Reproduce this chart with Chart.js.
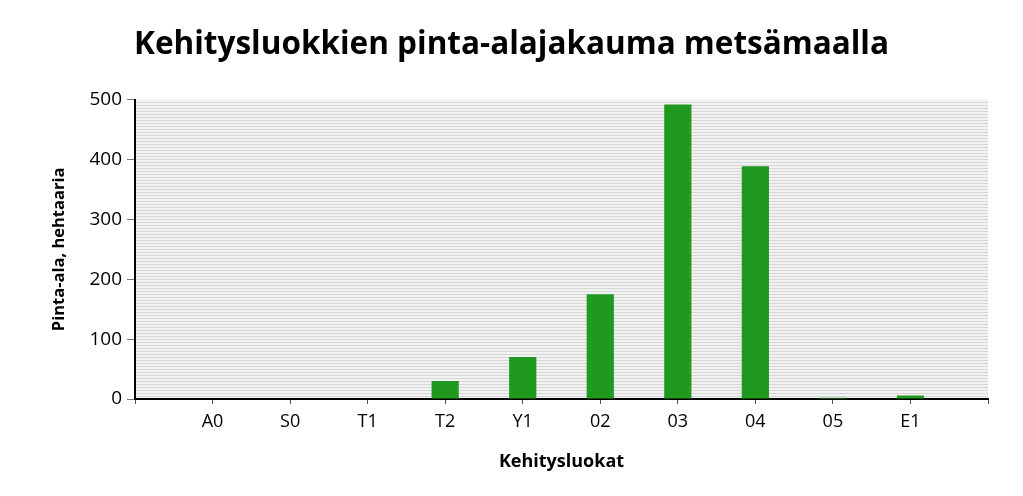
<!DOCTYPE html>
<html>
<head>
<meta charset="utf-8">
<script src="https://cdn.jsdelivr.net/npm/chart.js@4/dist/chart.umd.min.js"></script>
<style>
  html, body { margin: 0; padding: 0; background: #fff; }
  #wrap { width: 1023px; height: 496px; }
</style>
</head>
<body>
<div id="wrap"><canvas id="chart"></canvas></div>
<script>
const classes = ["A0", "S0", "T1", "T2", "Y1", "02", "03", "04", "05", "E1"];
const areaHa = [0, 0, 1, 30, 70, 175, 492, 389, 2, 6];
const yTicks = [0, 100, 200, 300, 400, 500];

// empty slot on both ends, as in the original
const labels = [""].concat(classes, [""]);
const values = [null].concat(areaHa, [null]);

const stripes = {
  id: "stripes",
  beforeDraw(chart) {
    const { ctx, chartArea: a } = chart;
    const p = document.createElement("canvas");
    p.width = 4; p.height = 3;
    const pc = p.getContext("2d");
    pc.fillStyle = "#f2f2f2";
    pc.fillRect(0, 0, 4, 3);
    pc.fillStyle = "#d6d6d6";
    pc.fillRect(0, 0, 4, 1);
    ctx.save();
    ctx.fillStyle = ctx.createPattern(p, "repeat");
    ctx.fillRect(a.left, a.top, a.right - a.left, a.bottom - a.top);
    ctx.restore();
  }
};

const font = "'Open Sans', 'Noto Sans', sans-serif";

new Chart(document.getElementById("chart").getContext("2d"), {
  type: "bar",
  data: {
    labels: labels,
    datasets: [
      {
        label: "Pinta-ala",
        data: values,
        backgroundColor: "#1f9a1f",
        barPercentage: 0.9,
        categoryPercentage: 0.39,
      },
    ],
  },
  options: {
    responsive: true,
    maintainAspectRatio: false,
    animation: false,
    layout: { padding: { left: 0, right: 0, top: 0, bottom: 14 } },
    plugins: {
      legend: { display: false },
      tooltip: { enabled: false },
      title: {
        display: true,
        text: "Kehitysluokkien pinta-alajakauma metsämaalla",
        color: "#000",
        font: { family: font, size: 31.5, weight: "bold" },
        padding: { top: 26, bottom: 36 },
      },
    },
    scales: {
      x: {
        offset: false,
        grid: {
          drawOnChartArea: false,
          color: "#555",
          tickLength: 5,
          offset: false,
        },
        border: { color: "#000", width: 2 },
        ticks: {
          color: "#000",
          font: { family: font, size: 18 },
          padding: 7,
          maxRotation: 0,
          autoSkip: false,
        },
        title: {
          display: true,
          text: "Kehitysluokat",
          color: "#000",
          font: { family: font, size: 18, weight: "bold" },
          padding: { top: 0, bottom: 9 },
        },
        afterFit(s) { s.height = 83; },
      },
      y: {
        min: 0,
        max: 500,
        afterBuildTicks(s) { s.ticks = yTicks.map((v) => ({ value: v })); },
        grid: {
          drawOnChartArea: false,
          color: "#777",
          tickLength: 8,
        },
        border: { color: "#000", width: 2 },
        ticks: {
          color: "#000",
          font: { family: font, size: 19 },
          padding: 5,
        },
        title: {
          display: true,
          text: "Pinta-ala, hehtaaria",
          color: "#000",
          font: { family: font, size: 16.5, weight: "bold" },
          padding: { top: 49, bottom: 0 },
        },
        afterFit(s) { s.width = 135; },
      },
      // empty right-hand space so the title stays centred on the page
      yRight: {
        position: "right",
        grid: { display: false },
        border: { display: false },
        ticks: { display: false },
        afterFit(s) { s.width = 35; },
      },
    },
  },
  plugins: [stripes],
});
</script>
</body>
</html>
